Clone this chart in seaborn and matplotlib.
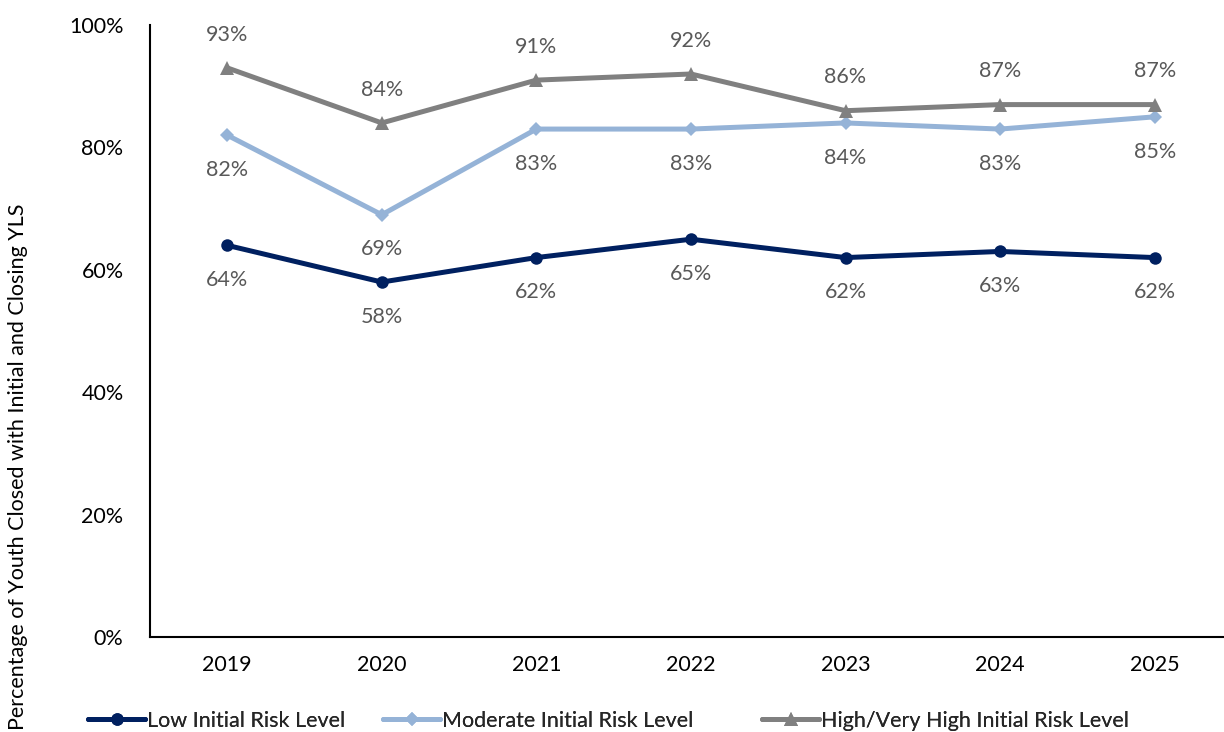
import matplotlib
matplotlib.use("Agg")
import matplotlib.pyplot as plt
import seaborn as sns
import pandas as pd

years = ["2019", "2020", "2021", "2022", "2023", "2024", "2025"]
low = [64, 58, 62, 65, 62, 63, 62]
moderate = [82, 69, 83, 83, 84, 83, 85]
high = [93, 84, 91, 92, 86, 87, 87]
series_names = ["Low Initial Risk Level", "Moderate Initial Risk Level",
                "High/Very High Initial Risk Level"]
yticks = [0, 20, 40, 60, 80, 100]

sns.set_theme(style="white")
plt.rcParams["font.family"] = ["Lato", "DejaVu Sans"]

rows = []
for name, vals in zip(series_names, [low, moderate, high]):
    for i, (y, v) in enumerate(zip(years, vals)):
        rows.append({"idx": i, "year": y, "value": v, "series": name})
df = pd.DataFrame(rows)

colors = {series_names[0]: "#002060", series_names[1]: "#95B3D7", series_names[2]: "#808080"}
markers = {series_names[0]: "o", series_names[1]: "D", series_names[2]: "^"}
msizes = {series_names[0]: 9, series_names[1]: 7, series_names[2]: 10}
FS = 15.5

fig = plt.figure(figsize=(12.24, 7.32), dpi=100)
ax = fig.add_axes([0.1225, 0.1298, 0.884, 0.836])

for name in series_names:
    sub = df[df["series"] == name]
    sns.lineplot(data=sub, x="idx", y="value", ax=ax, color=colors[name],
                 linewidth=3.6, marker=markers[name], markersize=msizes[name],
                 markeredgewidth=0, label=name, legend=False)
    for _, r in sub.iterrows():
        off = 24 if name == series_names[2] else -25
        ax.annotate(f"{r['value']}%", (r["idx"], r["value"]), xytext=(0, off),
                    textcoords="offset points", ha="center", va="center",
                    fontsize=FS, color="#595959")

ax.set_xlim(-0.5, 6.5)
ax.set_ylim(0, 100)
ax.set_xticks(range(len(years)))
ax.set_xticklabels(years)
ax.set_yticks(yticks)
ax.set_yticklabels([f"{t}%" for t in yticks])
ax.tick_params(axis="both", length=0, labelsize=FS, colors="#000000")
ax.tick_params(axis="x", pad=13)
ax.tick_params(axis="y", pad=19)
ax.set_xlabel("")
ax.set_ylabel("")
for s in ["top", "right"]:
    ax.spines[s].set_visible(False)
for s in ["left", "bottom"]:
    ax.spines[s].set_color("#000000")
    ax.spines[s].set_linewidth(1.5)

fig.text(0.0147, 0.362, "Percentage of Youth Closed with Initial and Closing YLS",
         rotation=90, ha="center", va="center", fontsize=FS, color="#000000")

handles, labels = ax.get_legend_handles_labels()
legend_x = [88 / 1224, 383 / 1224, 762 / 1224]
for h, l, lx in zip(handles, labels, legend_x):
    leg = fig.legend([h], [l], loc="center left", bbox_to_anchor=(lx, 0.0150),
                     frameon=False, fontsize=FS, handlelength=2.65,
                     handletextpad=0.1, borderaxespad=0, borderpad=0)
    fig.add_artist(leg)

fig.savefig("out.png", dpi=100)
